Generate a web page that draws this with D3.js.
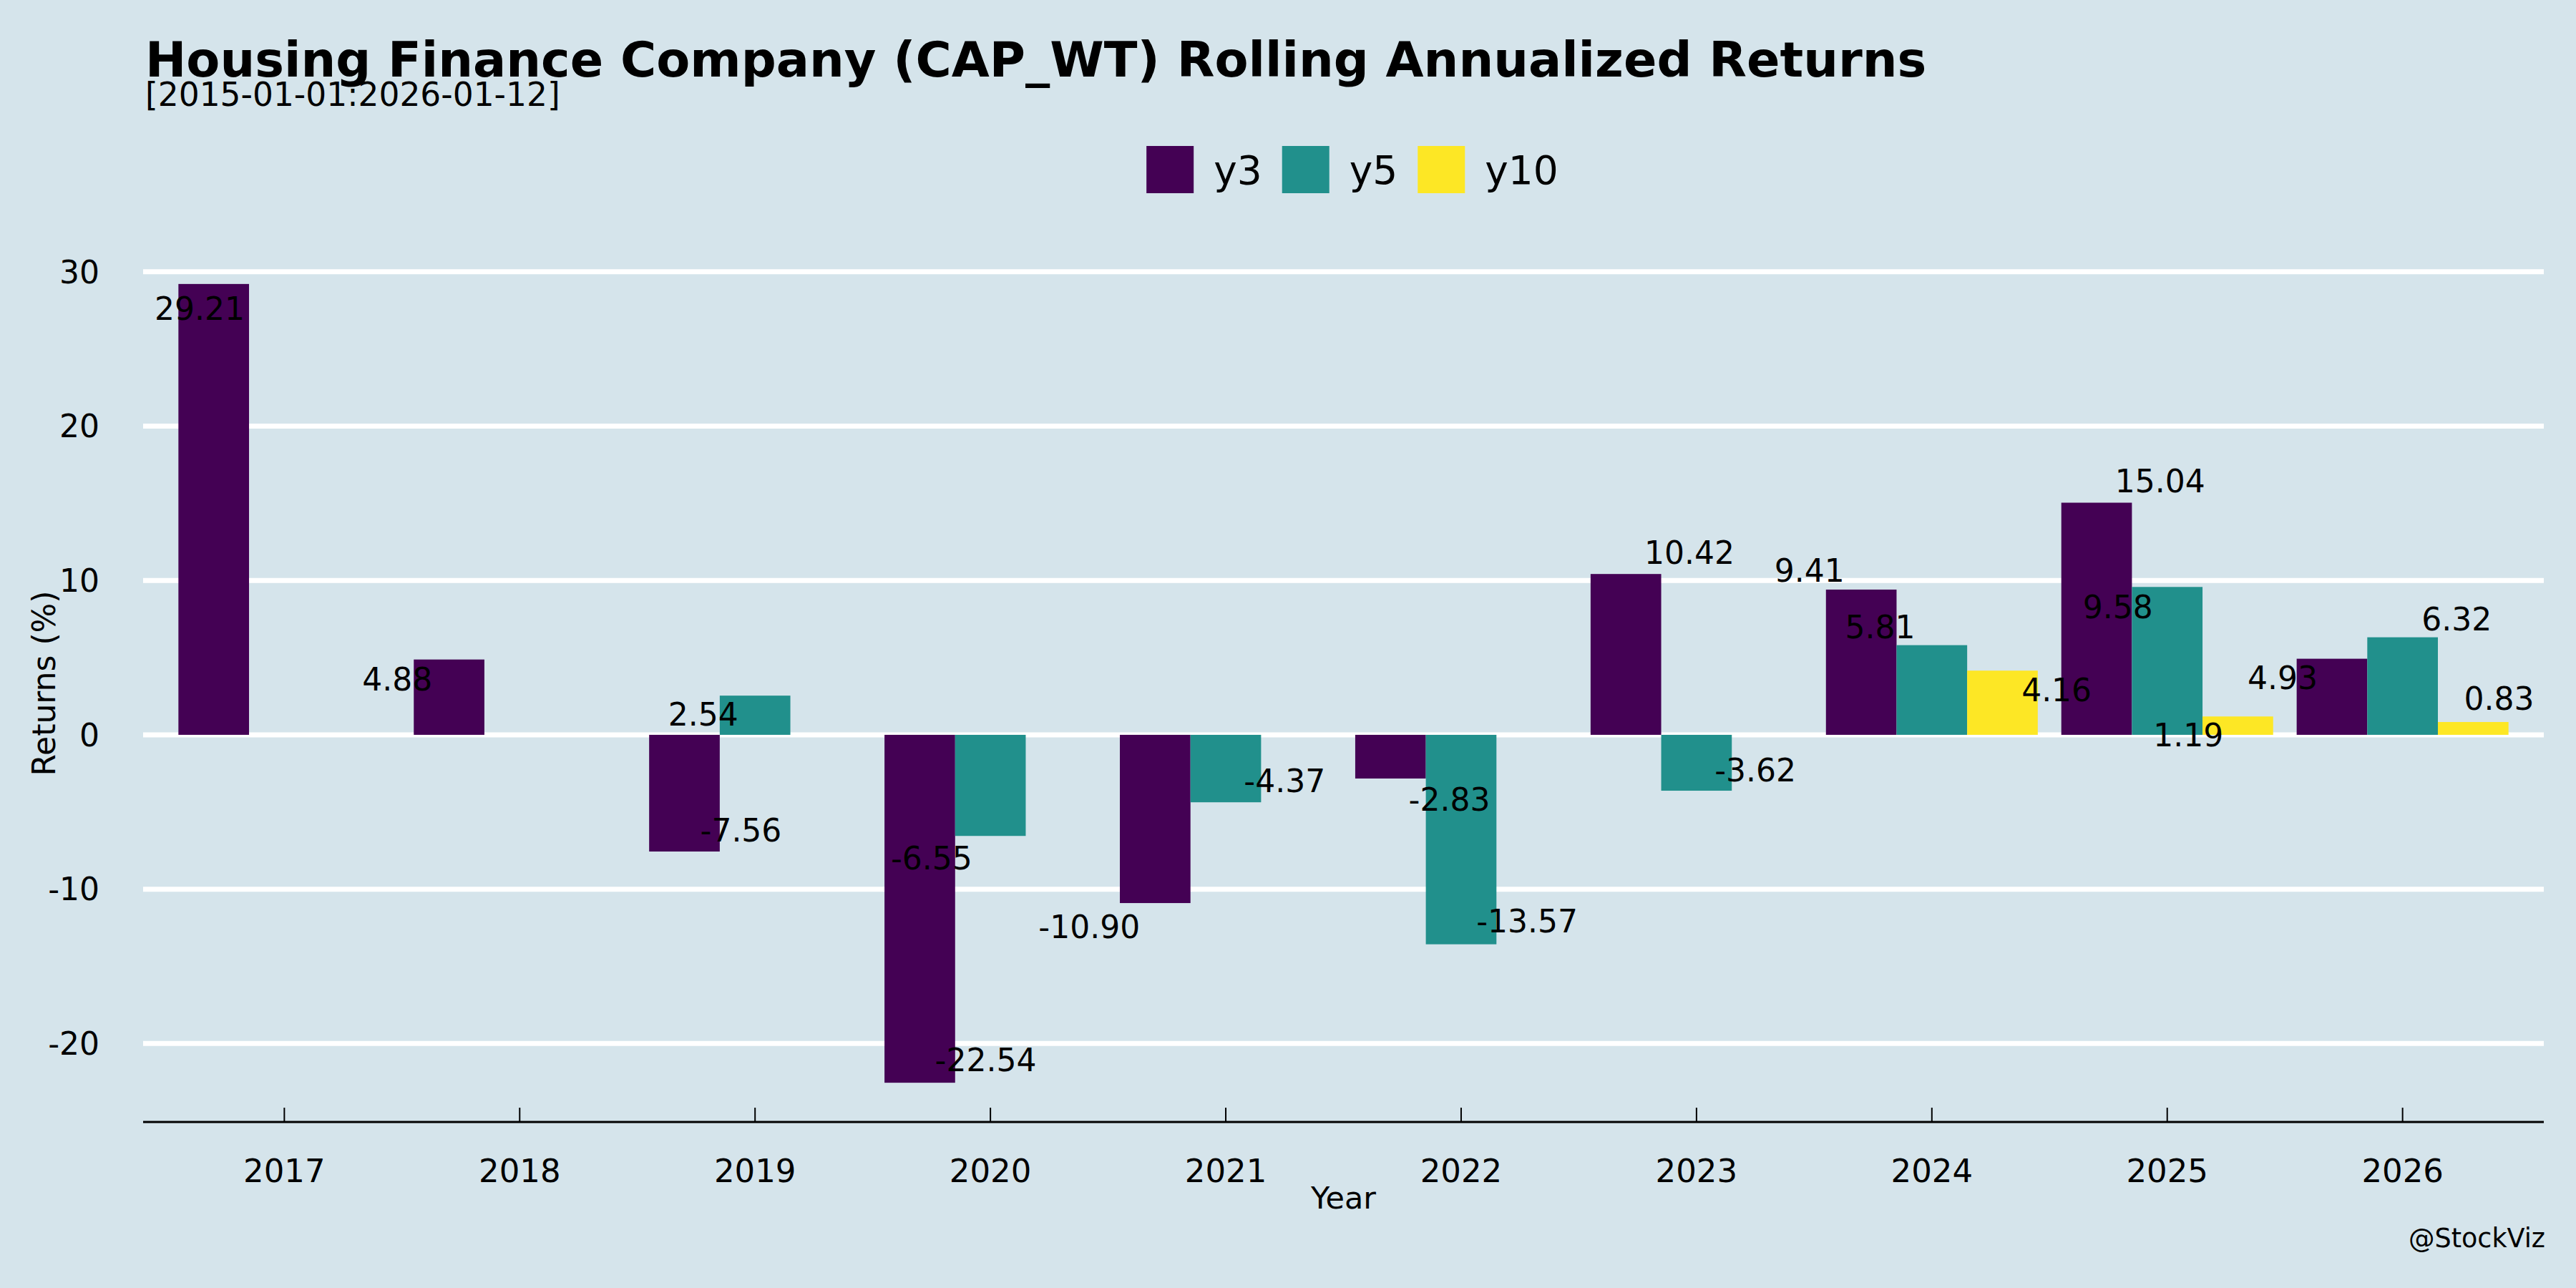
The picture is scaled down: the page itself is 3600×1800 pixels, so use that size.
<!DOCTYPE html>
<html>
<head>
<meta charset="utf-8">
<script src="https://cdn.jsdelivr.net/npm/d3@7"></script>
<style>
  body { margin: 0; background: #d5e4eb; }
  svg text { font-family: "DejaVu Sans", sans-serif; fill: #000; }
</style>
</head>
<body>
<script>
// data
const years = ["2017", "2018", "2019", "2020", "2021", "2022", "2023", "2024", "2025", "2026"];
const series = ["y3", "y5", "y10"];
const y3 = [29.21, 4.88, -7.56, -22.54, -10.90, -2.83, 10.42, 9.41, 15.04, 4.93];
const y5 = [null, null, 2.54, -6.55, -4.37, -13.57, -3.62, 5.81, 9.58, 6.32];
const y10 = [null, null, null, null, null, null, null, 4.16, 1.19, 0.83];
// the value labels are jittered: offset from the year (in band units) and label height (in %)
const jitX3 = [-0.36, -0.52, -0.06, -0.02, -0.58, -0.05, -0.03, -0.52, -0.03, -0.51];
const jitY3 = [27.6, 3.62, -6.17, -21.06, -12.43, -4.2, 11.83, 10.67, 16.47, 3.7];
const jitX5 = [null, null, -0.22, -0.25, 0.25, 0.28, 0.25, -0.22, -0.21, 0.23];
const jitY5 = [null, null, 1.32, -7.97, -2.97, -12.06, -2.27, 7.0, 8.3, 7.51];
const jitX10 = [null, null, null, null, null, null, null, 0.53, 0.09, 0.41];
const jitY10 = [null, null, null, null, null, null, null, 2.92, 0.0, 2.37];
const yTicks = [-20, -10, 0, 10, 20, 30];
const colors = ["#440154", "#21908c", "#fde725"];

const title = "Housing Finance Company (CAP_WT) Rolling Annualized Returns";
const subtitle = "[2015-01-01:2026-01-12]";

const W = 3600, H = 1800;
const margin = { top: 341, right: 45, bottom: 231, left: 200 };

const values = { y3, y5, y10 };
const jit = { y3: [jitX3, jitY3], y5: [jitX5, jitY5], y10: [jitX10, jitY10] };

const rows = [];
series.forEach(s => years.forEach((yr, i) => {
  if (values[s][i] != null) rows.push({ year: yr, key: s, value: values[s][i], jx: jit[s][0][i], jy: jit[s][1][i] });
}));

const svg = d3.select("body").append("svg")
  .attr("width", W).attr("height", H);

svg.append("rect").attr("width", W).attr("height", H).attr("fill", "#d5e4eb");

const x = d3.scaleBand()
  .domain(years)
  .range([margin.left, W - margin.right])
  .paddingInner(0)
  .paddingOuter(0.1);
const step = x.step();
const xc = d => x(d) + step / 2;
const x1 = d3.scaleBand().domain(series).range([-0.45 * step, 0.45 * step]);

const y = d3.scaleLinear()
  .domain([-25.13, 31.8])
  .range([H - margin.bottom, margin.top]);

const color = d3.scaleOrdinal().domain(series).range(colors);

// gridlines
svg.append("g").selectAll("line")
  .data(yTicks)
  .join("line")
    .attr("x1", margin.left).attr("x2", W - margin.right)
    .attr("y1", d => y(d)).attr("y2", d => y(d))
    .attr("stroke", "#fff").attr("stroke-width", 7);

// y tick labels
svg.append("g").selectAll("text")
  .data(yTicks)
  .join("text")
    .attr("x", 139).attr("y", d => y(d))
    .attr("dy", "0.36em")
    .attr("text-anchor", "end")
    .attr("font-size", 44)
    .text(d => d);

// bars
svg.append("g").selectAll("rect")
  .data(rows)
  .join("rect")
    .attr("x", d => xc(d.year) + x1(d.key))
    .attr("width", x1.bandwidth())
    .attr("y", d => y(Math.max(0, d.value)))
    .attr("height", d => Math.abs(y(d.value) - y(0)))
    .attr("fill", d => color(d.key));

// value labels
svg.append("g").selectAll("text")
  .data(rows)
  .join("text")
    .attr("x", d => xc(d.year) + d.jx * step)
    .attr("y", d => y(d.jy))
    .attr("dy", "0.36em")
    .attr("text-anchor", "middle")
    .attr("font-size", 44)
    .text(d => d.value.toFixed(2));

// x axis
const axisY = H - margin.bottom - 1;
svg.append("line")
  .attr("x1", margin.left).attr("x2", W - margin.right)
  .attr("y1", axisY).attr("y2", axisY)
  .attr("stroke", "#000").attr("stroke-width", 3.2);
svg.append("g").selectAll("line")
  .data(years)
  .join("line")
    .attr("x1", d => xc(d)).attr("x2", d => xc(d))
    .attr("y1", axisY).attr("y2", axisY - 20)
    .attr("stroke", "#000").attr("stroke-width", 2);
svg.append("g").selectAll("text")
  .data(years)
  .join("text")
    .attr("x", d => xc(d)).attr("y", 1652)
    .attr("text-anchor", "middle")
    .attr("font-size", 45)
    .text(d => d);

// axis titles
svg.append("text")
  .attr("x", (margin.left + W - margin.right) / 2).attr("y", 1689)
  .attr("text-anchor", "middle").attr("font-size", 43)
  .text("Year");
svg.append("text")
  .attr("transform", `translate(77, ${(y.range()[0] + y.range()[1]) / 2}) rotate(-90)`)
  .attr("text-anchor", "middle").attr("font-size", 44)
  .text("Returns (%)");

// title + subtitle
svg.append("text")
  .attr("x", 203).attr("y", 107)
  .attr("font-size", 68.5).attr("font-weight", "bold")
  .text(title);
svg.append("text")
  .attr("x", 203).attr("y", 148)
  .attr("font-size", 45.5)
  .text(subtitle);

// legend
const legend = svg.append("g");
let lx = 0;
series.forEach(s => {
  const item = legend.append("g").attr("transform", `translate(${lx},0)`);
  item.append("rect")
    .attr("x", 0).attr("y", 204)
    .attr("width", 66).attr("height", 66)
    .attr("fill", color(s));
  const t = item.append("text")
    .attr("x", 94).attr("y", 237)
    .attr("dy", "0.36em")
    .attr("font-size", 55)
    .text(s);
  lx += 94 + t.node().getComputedTextLength() + 28;
});
const legendW = lx - 28;
legend.attr("transform", `translate(${1890 - legendW / 2},0)`);

// caption
svg.append("text")
  .attr("x", 3557).attr("y", 1743)
  .attr("text-anchor", "end").attr("font-size", 36.5)
  .text("@StockViz");
</script>
</body>
</html>
